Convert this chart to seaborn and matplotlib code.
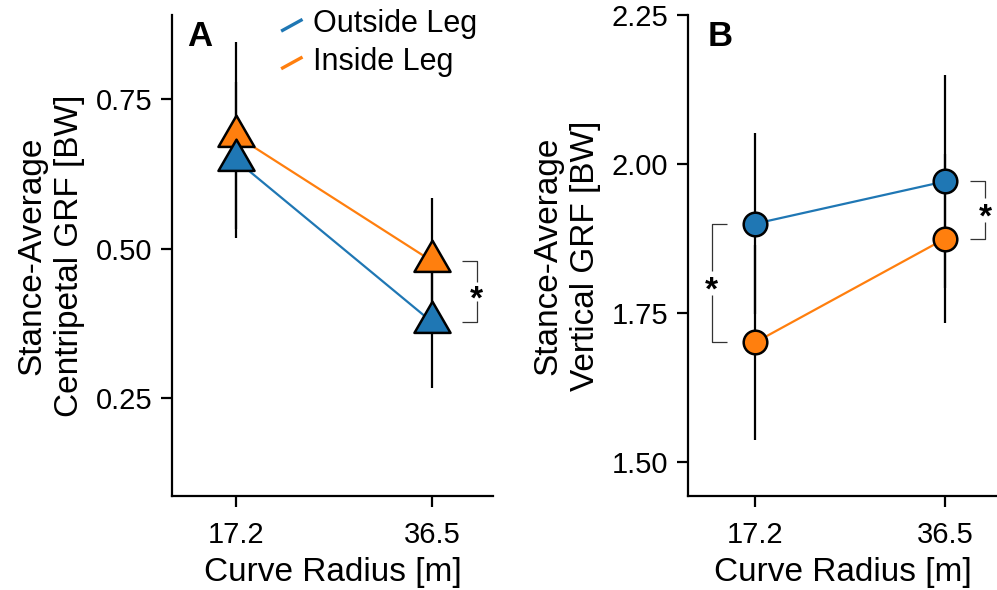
import numpy as np
import pandas as pd
import matplotlib
matplotlib.use('Agg')
import matplotlib.pyplot as plt
from matplotlib.lines import Line2D
from matplotlib.path import Path
from matplotlib.legend_handler import HandlerBase
import seaborn as sns

# data
radius = ['17.2', '36.5']
legs = ['Outside Leg', 'Inside Leg']

# A: centripetal GRF (mean, sd)
cent_outside = [0.648, 0.377]
cent_inside = [0.689, 0.479]
cent_outside_sd = [0.131, 0.110]
cent_inside_sd = [0.156, 0.105]

# B: vertical GRF (mean, sd)
vert_outside = [1.900, 1.971]
vert_inside = [1.701, 1.875]
vert_outside_sd = [0.152, 0.179]
vert_inside_sd = [0.163, 0.142]

cent_ticks = [0.25, 0.50, 0.75]
vert_ticks = [1.50, 1.75, 2.00, 2.25]

colors = {'Outside Leg': '#1f77b4', 'Inside Leg': '#ff7f0e'}

sns.set_theme(style='ticks')
plt.rcParams['font.family'] = ['Liberation Sans', 'DejaVu Sans']
plt.rcParams['text.color'] = 'black'
plt.rcParams['axes.labelcolor'] = 'black'


def make_df(outside, inside, out_sd, in_sd):
    return pd.DataFrame({
        'radius': radius * 2,
        'leg': [legs[0]] * 2 + [legs[1]] * 2,
        'grf': outside + inside,
        'sd': out_sd + in_sd,
    })


class SlantHandler(HandlerBase):
    def create_artists(self, legend, orig_handle, xdescent, ydescent,
                       width, height, fontsize, trans):
        x0, y0 = -xdescent, -ydescent
        line = Line2D([x0, x0 + width], [y0 + 0.05 * height, y0 + 0.6 * height],
                      color=orig_handle.get_color(), lw=2.4,
                      solid_capstyle='butt', transform=trans)
        return [line]


def draw_panel(ax, df, marker, msize):
    pos = [radius.index(r) for r in df['radius']]
    ax.vlines(pos, df['grf'] - df['sd'], df['grf'] + df['sd'],
              color='black', lw=1.6, zorder=1)
    sns.pointplot(data=df, x='radius', y='grf', hue='leg', order=radius,
                  hue_order=legs[::-1], palette=colors, markers=marker,
                  errorbar=None, ax=ax, legend=False, linewidth=1.6,
                  markersize=msize, markeredgecolor='black',
                  markeredgewidth=1.8)
    for ln in ax.lines:
        ln.set_zorder(2)


def bracket(ax, x_in, x_out, y_top, y_bot, gap):
    ymid = (y_top + y_bot) / 2
    kw = dict(color='#333333', lw=0.9, solid_capstyle='butt', zorder=3)
    ax.plot([x_in, x_out, x_out], [y_top, y_top, ymid + gap], **kw)
    ax.plot([x_out, x_out, x_in], [ymid - gap, y_bot, y_bot], **kw)
    ax.annotate('*', (x_out, ymid), xytext=(0, -12), textcoords='offset points',
                ha='center', va='baseline', fontsize=24, fontweight='bold')


def style_axis(ax, ylabel):
    sns.despine(ax=ax)
    for s in ['left', 'bottom']:
        ax.spines[s].set_linewidth(1.6)
        ax.spines[s].set_color('black')
    ax.tick_params(axis='both', length=8, width=1.6, color='black',
                   labelsize=21, pad=6, labelcolor='black')
    ax.tick_params(axis='x', pad=10)
    ax.set_xlabel('Curve Radius [m]', fontsize=24, labelpad=6)
    ax.set_ylabel(ylabel, fontsize=24, labelpad=8, linespacing=1.25)


fig = plt.figure(figsize=(9.97, 5.9), dpi=100)
axA = fig.add_axes([0.1725, 0.1593, 0.322, 0.8153])
axB = fig.add_axes([0.690, 0.1593, 0.310, 0.8153])

tri = Path([(0, 1), (-0.866, -0.5), (0.866, -0.5), (0, 1)], closed=True)

# panel A
dfA = make_df(cent_outside, cent_inside, cent_outside_sd, cent_inside_sd)
draw_panel(axA, dfA, tri, 30)
axA.set_xlim(-0.327, 1.311)
axA.set_ylim(0.086, 0.891)
axA.set_yticks(cent_ticks)
axA.set_yticklabels([f'{t:.2f}' for t in cent_ticks])
style_axis(axA, 'Stance-Average\nCentripetal GRF [BW]')
bracket(axA, 1.152, 1.228, cent_inside[1], cent_outside[1], 0.016)
axA.text(0.047, 0.99, 'A', transform=axA.transAxes, ha='left', va='top',
         fontsize=25, fontweight='bold')

handles = [Line2D([], [], color=colors[l]) for l in legs]
axA.legend(handles, legs, handler_map={Line2D: SlantHandler()},
           loc='upper left', bbox_to_anchor=(0.34, 1.012), frameon=False,
           fontsize=22, handlelength=0.7, handletextpad=0.35,
           labelspacing=0.25, borderpad=0, borderaxespad=0)

# panel B
dfB = make_df(vert_outside, vert_inside, vert_outside_sd, vert_inside_sd)
draw_panel(axB, dfB, 'o', 17)
axB.set_xlim(-0.353, 1.274)
axB.set_ylim(1.4436, 2.25)
axB.set_yticks(vert_ticks)
axB.set_yticklabels([f'{t:.2f}' for t in vert_ticks])
style_axis(axB, 'Stance-Average\nVertical GRF [BW]')
bracket(axB, -0.149, -0.228, vert_outside[0], vert_inside[0], 0.02)
bracket(axB, 1.132, 1.211, vert_outside[1], vert_inside[1], 0.02)
axB.text(0.065, 0.99, 'B', transform=axB.transAxes, ha='left', va='top',
         fontsize=25, fontweight='bold')

fig.savefig('out.png', dpi=100)
